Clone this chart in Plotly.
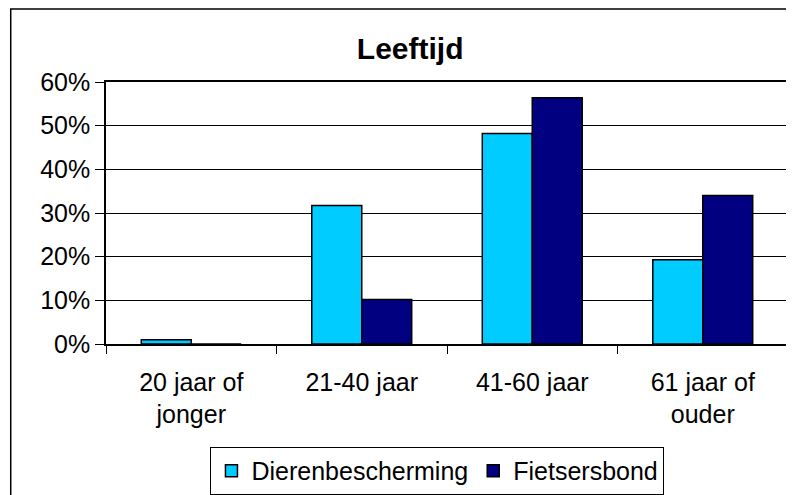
import plotly.graph_objects as go

categories = ["20 jaar of<br>jonger", "21-40 jaar", "41-60 jaar", "61 jaar of<br>ouder"]
dierenbescherming = [0.01, 0.317, 0.482, 0.193]
fietsersbond = [0.0, 0.102, 0.564, 0.340]
y_ticks = [0, 0.1, 0.2, 0.3, 0.4, 0.5, 0.6]
y_ticklabels = ["0%", "10%", "20%", "30%", "40%", "50%", "60%"]

FONT = "Liberation Sans, Arial, sans-serif"

fig = go.Figure()
fig.add_trace(go.Bar(name="Dierenbescherming", x=categories, y=dierenbescherming,
                     marker=dict(color="#00CCFF", line=dict(color="black", width=1.5))))
fig.add_trace(go.Bar(name="Fietsersbond", x=categories, y=fietsersbond,
                     marker=dict(color="#000080", line=dict(color="black", width=1.5))))

# page body has an 8px default margin, so the figure is sized to the visible area
W, H = 786, 487

fig.update_layout(
    width=W, height=H,
    margin=dict(l=98, r=6, t=74, b=151, autoexpand=False),
    paper_bgcolor="white", plot_bgcolor="white",
    barmode="group", bargap=0.414, bargroupgap=0,
    font=dict(family=FONT, size=25, color="black"),
    title=dict(text="<b>Leeftijd</b>", font=dict(family=FONT, size=30, color="black"),
               xref="paper", x=0.446, xanchor="center",
               yref="container", y=1 - 40 / H, yanchor="middle"),
    showlegend=True,
    legend=dict(orientation="h", xref="paper", x=0.486, xanchor="center",
                yref="paper", y=-0.393, yanchor="top",
                bordercolor="black", borderwidth=1, bgcolor="white",
                font=dict(family=FONT, size=25, color="black"),
                itemclick=False, tracegroupgap=0),
    xaxis=dict(type="category", tickson="boundaries", ticks="outside", ticklen=8,
               tickcolor="black", tickwidth=1, showline=True, linecolor="black",
               linewidth=1.5, mirror=True, showgrid=False, automargin=False,
               ticklabelstandoff=15,
               tickfont=dict(family=FONT, size=25, color="black")),
    yaxis=dict(range=[0, 0.6], tickvals=y_ticks, ticktext=y_ticklabels,
               ticks="outside", ticklen=9, tickcolor="black", tickwidth=1,
               showline=True, linecolor="black", linewidth=1.5, mirror=True,
               showgrid=True, gridcolor="black", gridwidth=1, zeroline=False,
               automargin=False,
               tickfont=dict(family=FONT, size=25, color="black")),
    shapes=[dict(type="rect", xref="paper", yref="paper",
                 x0=-0.1397, x1=1.2, y0=-1.0, y1=1.2786,
                 line=dict(color="black", width=1.5), fillcolor="rgba(0,0,0,0)",
                 layer="below")],
)

fig.write_html("out.html")
